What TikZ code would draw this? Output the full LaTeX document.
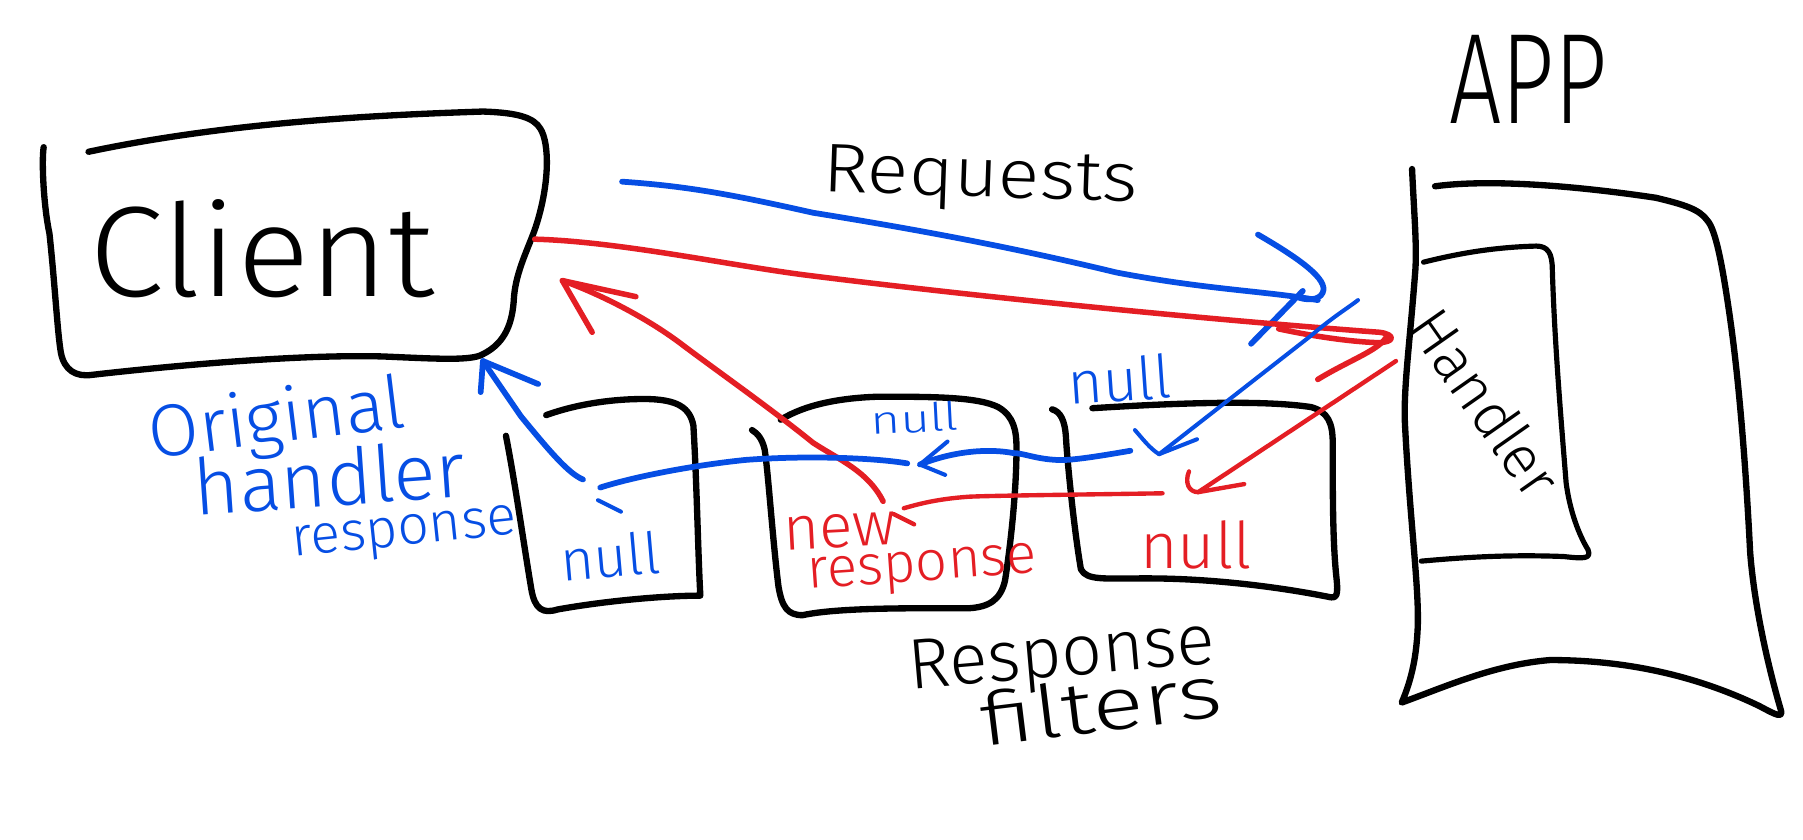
\documentclass[tikz,border=0pt]{standalone}
\usepackage{fontspec}
\setmainfont{Fira Sans}[UprightFont={* Light}]
\definecolor{penblue}{RGB}{6,78,228}
\definecolor{penred}{RGB}{228,30,36}
\newcommand{\fsz}[1]{\fontsize{#1}{#1}\selectfont}
\begin{document}
\begin{tikzpicture}[x=1pt,y=-1pt,
 ink/.style={black,line width=5.5pt,line cap=round,line join=round},
 thinink/.style={black,line width=4.5pt,line cap=round,line join=round},
 bpen/.style={penblue,line width=5pt,line cap=round,line join=round},
 bthin/.style={penblue,line width=3.5pt,line cap=round,line join=round},
 rpen/.style={penred,line width=4.8pt,line cap=round,line join=round},
 rthin/.style={penred,line width=3.8pt,line cap=round,line join=round},
 lbl/.style={inner sep=0pt,anchor=base},
 btxt/.style={lbl,text=penblue},
 rtxt/.style={lbl,text=penred}]

\useasboundingbox (0,0) rectangle (1568,730);
\fill[white] (0,0) rectangle (1568,730);

% ---------- Client box ----------
\draw[ink] (38,128) .. controls (36,140) and (38,180) .. (43,203)
  .. controls (48,250) and (50,290) .. (53,307)
  .. controls (56,322) and (66,328) .. (80,326)
  .. controls (150,318) and (260,308) .. (333,310)
  .. controls (380,312) and (410,314) .. (420,308)
  .. controls (440,298) and (446,280) .. (447,258)
  .. controls (449,235) and (460,215) .. (466,197)
  .. controls (478,160) and (478,125) .. (470,112)
  .. controls (464,102) and (450,98) .. (420,97)
  .. controls (330,100) and (200,106) .. (77,132);
\node[lbl,font=\fsz{112}] (client) at (228,258) {\scalebox{1.05}[1]{Client}};

% ---------- filter boxes ----------
\draw[ink] (475,361) .. controls (500,352) and (530,347) .. (560,347)
  .. controls (590,347) and (600,355) .. (603,370)
  .. controls (606,420) and (607,480) .. (609,517);
\draw[ink] (440,379) .. controls (448,420) and (455,470) .. (462,512)
  .. controls (465,530) and (472,534) .. (485,530)
  .. controls (530,522) and (580,518) .. (609,518);

\draw[ink] (679,365) .. controls (700,352) and (730,346) .. (764,345)
  .. controls (810,345) and (850,345) .. (868,354)
  .. controls (882,362) and (884,375) .. (884,390)
  .. controls (884,430) and (878,480) .. (874,505)
  .. controls (870,522) and (860,528) .. (842,529)
  .. controls (800,529) and (730,528) .. (698,535)
  .. controls (685,535) and (680,528) .. (677,510)
  .. controls (672,470) and (668,410) .. (665,391)
  .. controls (663,382) and (659,377) .. (654,374);

\draw[ink] (950,355) .. controls (1030,350) and (1100,348) .. (1140,354)
  .. controls (1155,358) and (1159,368) .. (1159,385)
  .. controls (1159,430) and (1159,470) .. (1162,500)
  .. controls (1164,518) and (1163,521) .. (1155,519)
  .. controls (1120,512) and (1060,503) .. (997,503)
  .. controls (960,503) and (945,505) .. (940,495)
  .. controls (934,460) and (928,400) .. (927,380)
  .. controls (926,365) and (922,358) .. (915,356);

% ---------- App box ----------
\draw[ink] (1228,147) .. controls (1230,190) and (1232,210) .. (1231,233)
  .. controls (1226,300) and (1220,340) .. (1222,372)
  .. controls (1226,450) and (1234,510) .. (1233,544)
  .. controls (1232,570) and (1228,590) .. (1219,611)
  .. controls (1260,596) and (1300,578) .. (1348,574)
  .. controls (1420,574) and (1480,590) .. (1530,614)
  .. controls (1545,622) and (1552,626) .. (1548,615)
  .. controls (1535,570) and (1525,520) .. (1522,480)
  .. controls (1518,400) and (1512,330) .. (1505,280)
  .. controls (1498,230) and (1492,200) .. (1485,192)
  .. controls (1478,182) and (1465,178) .. (1440,172)
  .. controls (1380,163) and (1300,155) .. (1248,162);
\node[lbl,font=\fsz{112}] (app) at (1329,107) {\scalebox{0.72}[1]{APP}};

\draw[thinink] (1238,228) .. controls (1270,220) and (1300,215) .. (1336,214)
  .. controls (1346,214) and (1350,220) .. (1350,235)
  .. controls (1352,300) and (1358,370) .. (1362,420)
  .. controls (1366,450) and (1376,470) .. (1381,478)
  .. controls (1384,486) and (1378,486) .. (1360,484)
  .. controls (1310,482) and (1270,485) .. (1236,488);
\node[inner sep=0pt,font=\fsz{52},rotate=-55] (handler) at (1292,350) {Handler};

% ---------- labels ----------
\node[lbl,font=\fsz{60},rotate=-2] (requests) at (852,171) {\scalebox{1.12}[1]{Requests}};
\node[lbl,font=\fsz{62},rotate=5] (respf1) at (925,588) {Response};
\node[lbl,font=\fsz{64},rotate=7] (respf2) at (960,636) {\scalebox{1.3}[1]{filters}};

\node[btxt,font=\fsz{64},rotate=7] (orig1) at (243,385) {Original};
\node[btxt,font=\fsz{68},rotate=4] (orig2) at (288,440) {handler};
\node[btxt,font=\fsz{48},rotate=6] (orig3) at (353,474) {response};

\node[btxt,font=\fsz{50},rotate=5] (null1) at (532,502) {null};
\node[btxt,font=\fsz{34},rotate=3] (null2) at (796,376) {\scalebox{1.3}[1]{null}};
\node[btxt,font=\fsz{52},rotate=4] (null3) at (975,349) {null};
\node[rtxt,font=\fsz{56}] (null4) at (1040,494) {null};
\node[rtxt,font=\fsz{54},rotate=3] (new1) at (731,476) {new};
\node[rtxt,font=\fsz{49},rotate=4] (new2) at (803,505) {response};

% ---------- connectors ----------
% blue request
\coordinate (reqS) at (541,158);
\coordinate (reqE) at (1146,261);
\draw[bpen] (reqS) .. controls (600,162) and (640,170) .. (707,185)
  .. controls (800,200) and (880,215) .. (971,237)
  .. controls (1050,252) and (1100,253) .. (reqE);
\draw[bpen] (1094,204) .. controls (1125,222) and (1152,240) .. (1151,252)
  .. controls (1150,260) and (1140,262) .. (1130,259);
\draw[bpen] (1133,253) -- (1088,299);

% red request with loop
\coordinate (rqS) at (465,208);
\coordinate (rqE) at (1200,289);
\draw[rpen] (rqS) .. controls (540,210) and (640,232) .. (707,240)
  .. controls (850,258) and (1050,278) .. (rqE)
  .. controls (1214,291) and (1213,298) .. (1198,298)
  .. controls (1170,297) and (1135,291) .. (1112,286);
\draw[rpen] (1205,294) .. controls (1198,305) and (1172,314) .. (1146,330);

% red: handler -> red null
\coordinate (rrS) at (1214,314);
\coordinate (rrE) at (1042,428);
\draw[rthin] (rrS) -- (rrE);
\draw[rthin] (1034,410) .. controls (1030,420) and (1034,428) .. (rrE) -- (1082,421);

% red: null -> new response
\coordinate (rhS) at (1011,429);
\coordinate (rhE) at (786,442);
\draw[rthin] (rhS) .. controls (950,430) and (860,431) .. (842,432)
  .. controls (815,434) and (800,438) .. (rhE);
\draw[rthin] (777,447) -- (795,456);

% red: new response -> client
\coordinate (rbS) at (768,436);
\coordinate (rbE) at (489,244);
\draw[rpen] (rbS) .. controls (755,410) and (730,400) .. (707,385)
  .. controls (670,355) and (620,320) .. (591,298)
  .. controls (560,275) and (520,255) .. (rbE);
\draw[rpen] (515,289) -- (rbE) -- (553,258);

% blue: handler -> null above box 3
\coordinate (bdS) at (1181,261);
\coordinate (bdE) at (1008,395);
\draw[bthin] (bdS) .. controls (1172,268) and (1160,275) .. (1140,292) -- (bdE);
\draw[bthin] (987,374) .. controls (994,382) and (1000,390) .. (bdE) -- (1041,382);

% blue: box 3 -> box 2
\coordinate (bhS) at (983,392);
\coordinate (bhE) at (800,404);
\draw[bpen] (bhS) .. controls (960,396) and (930,401) .. (919,400)
  .. controls (900,399) and (890,394) .. (881,394)
  .. controls (860,390) and (830,392) .. (bhE);
\draw[bthin] (824,384) -- (bhE) -- (822,413);

% blue: box 2 -> box 1
\coordinate (blS) at (789,403);
\coordinate (blE) at (522,424);
\draw[bpen] (blS) .. controls (760,398) and (700,396) .. (648,400)
  .. controls (600,405) and (550,415) .. (blE);
\draw[bthin] (520,435) -- (540,445);

% blue: box 1 -> client
\coordinate (bcS) at (507,417);
\coordinate (bcE) at (420,314);
\draw[bpen] (bcS) .. controls (495,412) and (480,395) .. (453,362) -- (bcE);
\draw[bpen] (418,341) -- (bcE) -- (468,334);
\end{tikzpicture}
\end{document}
